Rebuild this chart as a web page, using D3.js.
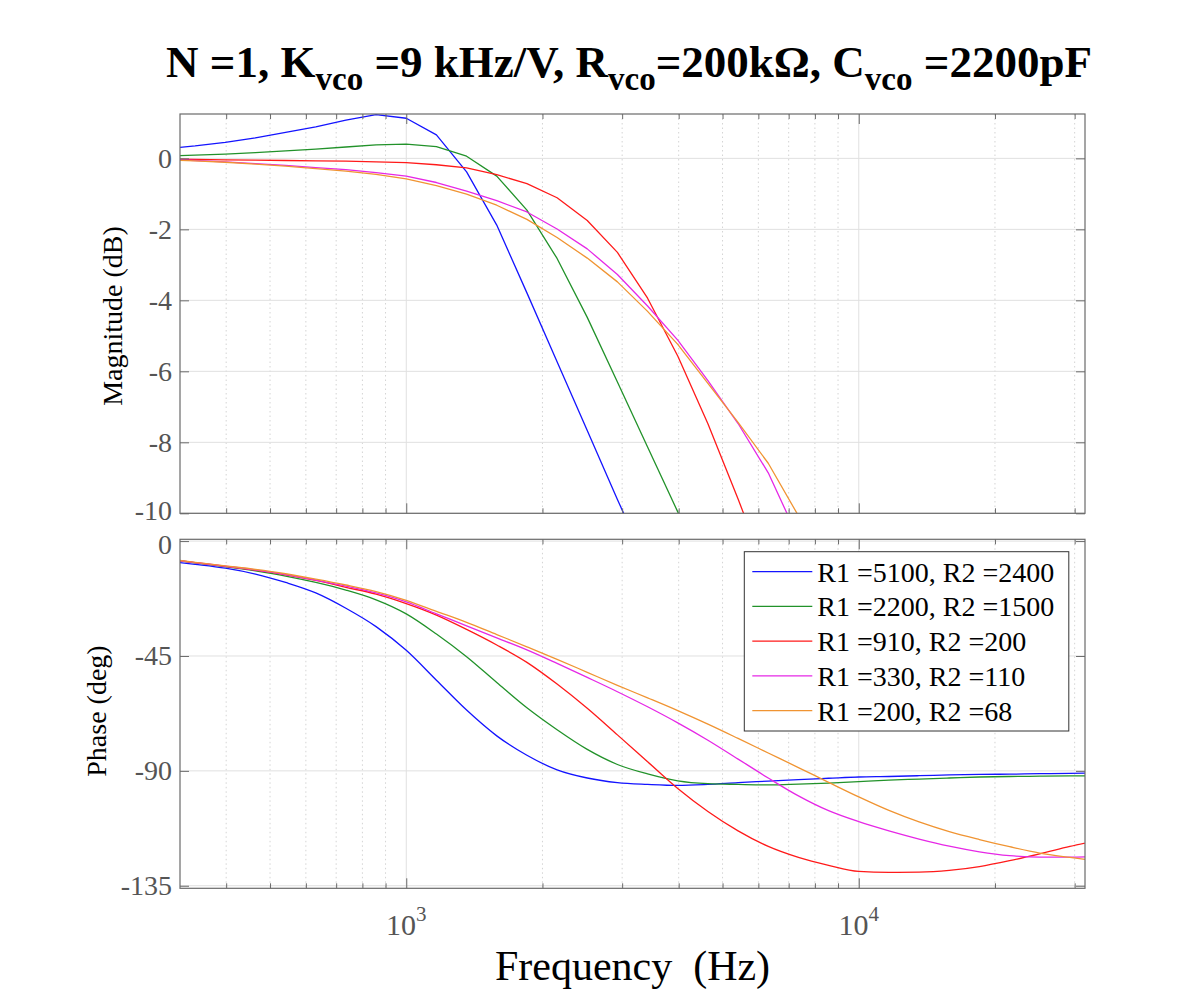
<!DOCTYPE html>
<html><head><meta charset="utf-8">
<script src="https://cdn.jsdelivr.net/npm/d3@7"></script>
<style>body{margin:0;background:#fff}</style>
</head><body>
<svg id="c" width="1200" height="1000"></svg>
<script>
// ---- data ----
const freqHz = [292.9, 341.5, 398.1, 464.2, 541.2, 631.0, 735.6, 857.7, 1000, 1165.9, 1359.4, 1584.9,
  1847.8, 2154.4, 2511.9, 2928.6, 3414.5, 3981.1, 4641.6, 5411.7, 6309.6, 7356.4, 8576.9, 10000,
  11659, 13594, 15849, 18478, 21544, 25119, 29286, 34145];
const seriesNames = ["R1 =5100, R2 =2400", "R1 =2200, R2 =1500", "R1 =910, R2 =200", "R1 =330, R2 =110", "R1 =200, R2 =68"];
const magBlue = [0.27, 0.35, 0.45, 0.58, 0.73, 0.89, 1.08, 1.23, 1.13, 0.66, -0.38, -1.88, -3.79, -5.73, -7.67, -9.61, -11.5,
  null, null, null, null, null, null, null, null, null, null, null, null, null, null, null];
const magGreen = [0.07, 0.09, 0.12, 0.16, 0.21, 0.26, 0.32, 0.38, 0.40, 0.33, 0.06, -0.50, -1.46, -2.82, -4.48, -6.30, -8.13, -9.96, -11.9,
  null, null, null, null, null, null, null, null, null, null, null, null, null];
const magRed = [-0.02, -0.03, -0.04, -0.05, -0.06, -0.07, -0.08, -0.10, -0.12, -0.18, -0.27, -0.46, -0.71, -1.11, -1.75, -2.65, -3.94,
  -5.57, -7.48, -9.60, -11.8, null, null, null, null, null, null, null, null, null, null, null];
const magMagenta = [-0.03, -0.06, -0.10, -0.15, -0.20, -0.26, -0.32, -0.40, -0.50, -0.68, -0.92, -1.19, -1.51, -1.99, -2.55, -3.27, -4.16,
  -5.12, -6.26, -7.47, -8.86, -10.7, -12.6, null, null, null, null, null, null, null, null, null];
const magOrange = [-0.04, -0.07, -0.11, -0.16, -0.22, -0.29, -0.36, -0.45, -0.58, -0.77, -1.01, -1.32, -1.72, -2.23, -2.81, -3.48, -4.31,
  -5.24, -6.34, -7.44, -8.59, -10.07, -11.6, null, null, null, null, null, null, null, null, null];
const phaseBlue = [-7.8, -9.1, -10.6, -12.9, -16.2, -20.3, -26.3, -33.5, -42.8, -54.5, -66.2, -76.3, -83.9, -89.6, -92.8, -94.6,
  -95.3, -95.7, -95.3, -94.6, -94.0, -93.4, -92.9, -92.4, -92.2, -91.9, -91.6, -91.4, -91.3, -91.1, -91.0, -90.8];
const phaseGreen = [-7.0, -8.5, -10.0, -11.7, -13.7, -16.2, -19.2, -23.0, -28.5, -36.4, -45.3, -55.4, -65.3, -73.9, -81.6, -87.5,
  -91.2, -93.9, -95.0, -95.3, -95.5, -95.2, -94.8, -94.2, -93.6, -93.2, -92.8, -92.4, -92.2, -92.1, -92.0, -91.9];
const phaseRed = [-7.0, -8.4, -9.9, -11.4, -13.2, -15.4, -18.1, -20.8, -24.5, -29.0, -34.6, -40.7, -47.5, -56.0, -65.5, -75.9,
  -86.4, -96.9, -105.9, -113.5, -119.6, -123.9, -127.0, -129.4, -129.8, -129.7, -129.0, -127.5, -125.2, -122.5, -119.6, -117.0];
const phaseMagenta = [-7.0, -8.4, -9.8, -11.3, -13.1, -15.3, -17.6, -20.3, -23.8, -28.5, -33.2, -37.9, -42.6, -47.9, -53.4, -59.0,
  -64.9, -71.2, -78.0, -85.4, -92.8, -99.8, -105.6, -109.9, -113.5, -116.7, -119.5, -121.7, -123.2, -123.8, -123.8, -123.4];
const phaseOrange = [-6.9, -8.3, -9.7, -11.1, -12.8, -14.9, -17.2, -19.8, -23.2, -27.5, -31.8, -36.6, -41.4, -46.3, -51.4, -56.5,
  -61.4, -66.4, -71.7, -77.3, -83.0, -88.7, -94.5, -100.2, -105.5, -110.0, -113.8, -116.9, -119.7, -122.2, -123.9, -125.4];
const magTicks = [0, -2, -4, -6, -8, -10];
const phaseTicks = [0, -45, -90, -135];
const majorFreqTicks = [1000, 10000];
const majorFreqExp = ["3", "4"];
const minorFreqTicks = [400, 500, 600, 700, 800, 900, 2000, 3000, 4000, 5000, 6000, 7000, 8000, 9000, 20000, 30000];

const magSeries = [magBlue, magGreen, magRed, magMagenta, magOrange];
const phaseSeries = [phaseBlue, phaseGreen, phaseRed, phaseMagenta, phaseOrange];
const colors = ["#1414ff", "#22922a", "#ff1a1a", "#e628e6", "#f09432"];

// ---- layout ----
const svg = d3.select("#c");
const L = 180, R = 1085;
const P1 = {top: 114, bottom: 513.3};
const P2 = {top: 539.3, bottom: 888.3};
const FONT = "'Liberation Serif', 'Times New Roman', serif";
const x = d3.scaleLog().domain([Math.pow(10, 2.5), Math.pow(10, 4.5)]).range([L, R]);
const y1 = d3.scaleLinear().domain([-10, 1.25]).range([P1.bottom, P1.top]);
const y2 = d3.scaleLinear().domain([-136, 0.7]).range([P2.bottom, P2.top]);

function panel(id, P, y, yTicks, series, labelsOnX, curve, labelNudge) {
  const g = svg.append("g");
  g.append("rect").attr("x", L).attr("y", P.top).attr("width", R - L).attr("height", P.bottom - P.top).attr("fill", "#fff");
  // minor grid
  g.selectAll(null).data(minorFreqTicks).enter().append("line")
    .attr("x1", d => x(d)).attr("x2", d => x(d)).attr("y1", P.top).attr("y2", P.bottom)
    .attr("stroke", "#d4d4d4").attr("stroke-width", 1).attr("stroke-dasharray", "1.5,3");
  // major grid
  g.selectAll(null).data(majorFreqTicks).enter().append("line")
    .attr("x1", d => x(d)).attr("x2", d => x(d)).attr("y1", P.top).attr("y2", P.bottom)
    .attr("stroke", "#e0e0e0").attr("stroke-width", 1);
  g.selectAll(null).data(yTicks).enter().append("line")
    .attr("x1", L).attr("x2", R).attr("y1", d => y(d)).attr("y2", d => y(d))
    .attr("stroke", "#e0e0e0").attr("stroke-width", 1);
  // clip
  svg.append("clipPath").attr("id", id).append("rect")
    .attr("x", L).attr("y", P.top).attr("width", R - L).attr("height", P.bottom - P.top);
  const lg = g.append("g").attr("clip-path", `url(#${id})`);
  series.forEach((vals, i) => {
    const pts = freqHz.map((f, j) => [f, vals[j]]);
    const line = d3.line().defined(d => d[1] !== null).x(d => x(d[0])).y(d => y(d[1])).curve(curve);
    lg.append("path").attr("d", line(pts)).attr("fill", "none")
      .attr("stroke", colors[i]).attr("stroke-width", 1.3).attr("stroke-linejoin", "round");
  });
  // axes (inward ticks)
  const axCol = "#6a6a6a";
  const styleAxis = sel => {
    sel.select(".domain").remove();
    sel.selectAll(".tick line").attr("stroke", axCol).attr("stroke-width", 1);
    sel.selectAll(".tick text").attr("fill", "#555").style("font-family", FONT).style("font-size", "28px");
  };
  const la = g.append("g").attr("transform", `translate(${L},0)`)
    .call(d3.axisLeft(y).tickValues(yTicks).tickSize(-9).tickPadding(8).tickFormat(d => String(d))).call(styleAxis);
  la.selectAll(".tick text").attr("y", d => labelNudge(d));
  g.append("g").attr("transform", `translate(${R},0)`)
    .call(d3.axisRight(y).tickValues(yTicks).tickSize(-9).tickFormat("")).call(styleAxis);
  [P.bottom, P.top].forEach((yy, k) => {
    const mk = k === 0 ? d3.axisBottom : d3.axisTop;
    g.append("g").attr("transform", `translate(0,${yy})`)
      .call(mk(x).tickValues(majorFreqTicks).tickSize(-10).tickFormat("")).call(styleAxis);
    g.append("g").attr("transform", `translate(0,${yy})`)
      .call(mk(x).tickValues(minorFreqTicks).tickSize(-5).tickFormat("")).call(styleAxis);
  });
  g.append("rect").attr("x", L).attr("y", P.top).attr("width", R - L).attr("height", P.bottom - P.top)
    .attr("fill", "none").attr("stroke", axCol).attr("stroke-width", 1.2);
  if (labelsOnX) {
    majorFreqTicks.forEach((f, i) => {
      const t = svg.append("text").attr("x", x(f)).attr("y", 935).attr("text-anchor", "middle")
        .style("font-family", FONT).style("font-size", "30px").attr("fill", "#555");
      t.append("tspan").text("10");
      t.append("tspan").attr("dy", -14).style("font-size", "21px").text(majorFreqExp[i]);
    });
  }
}

panel("clip1", P1, y1, magTicks, magSeries, false, d3.curveLinear, d => (d === -10 ? -3 : 0));
panel("clip2", P2, y2, phaseTicks, phaseSeries, true, d3.curveMonotoneX, d => (d === 0 ? 3 : 0));

// legend
const lgX = 744.3, lgY = 551.7, lgW = 324.5, lgH = 179.3, rowH = 34.75;
const leg = svg.append("g");
leg.append("rect").attr("x", lgX).attr("y", lgY).attr("width", lgW).attr("height", lgH)
  .attr("fill", "#fff").attr("stroke", "#333").attr("stroke-width", 1);
seriesNames.forEach((n, i) => {
  const cy = lgY + 20 + i * rowH;
  leg.append("line").attr("x1", lgX + 8).attr("x2", lgX + 68).attr("y1", cy).attr("y2", cy)
    .attr("stroke", colors[i]).attr("stroke-width", 1.3);
  leg.append("text").attr("x", lgX + 73).attr("y", cy).attr("dy", "0.35em")
    .style("font-family", FONT).style("font-size", "28px").attr("fill", "#000").text(n);
});

// axis titles
svg.append("text").attr("transform", "translate(122,316) rotate(-90)").attr("text-anchor", "middle")
  .style("font-family", FONT).style("font-size", "28px").attr("fill", "#000").text("Magnitude (dB)");
svg.append("text").attr("transform", "translate(106,711) rotate(-90)").attr("text-anchor", "middle")
  .style("font-family", FONT).style("font-size", "28px").attr("fill", "#000").text("Phase (deg)");
svg.append("text").attr("x", 632.5).attr("y", 980).attr("text-anchor", "middle")
  .style("font-family", FONT).style("font-size", "42px").style("white-space", "pre").attr("fill", "#000")
  .text("Frequency  (Hz)");

// title
const title = svg.append("text").attr("x", 629).attr("y", 77).attr("text-anchor", "middle")
  .style("font-family", FONT).style("font-size", "45px").style("font-weight", "bold").style("white-space", "pre").attr("fill", "#000");
const parts = [["N =1, K", false], ["vco", true], [" =9 kHz/V, R", false], ["vco", true], ["=200k\u03A9, C", false], ["vco", true], [" =2200pF", false]];
let sub = false;
parts.forEach(([txt, isSub]) => {
  const ts = title.append("tspan").text(txt);
  if (isSub && !sub) { ts.attr("dy", 13).style("font-size", "33px"); sub = true; }
  else if (!isSub && sub) { ts.attr("dy", -13); sub = false; }
});
</script>
</body></html>
